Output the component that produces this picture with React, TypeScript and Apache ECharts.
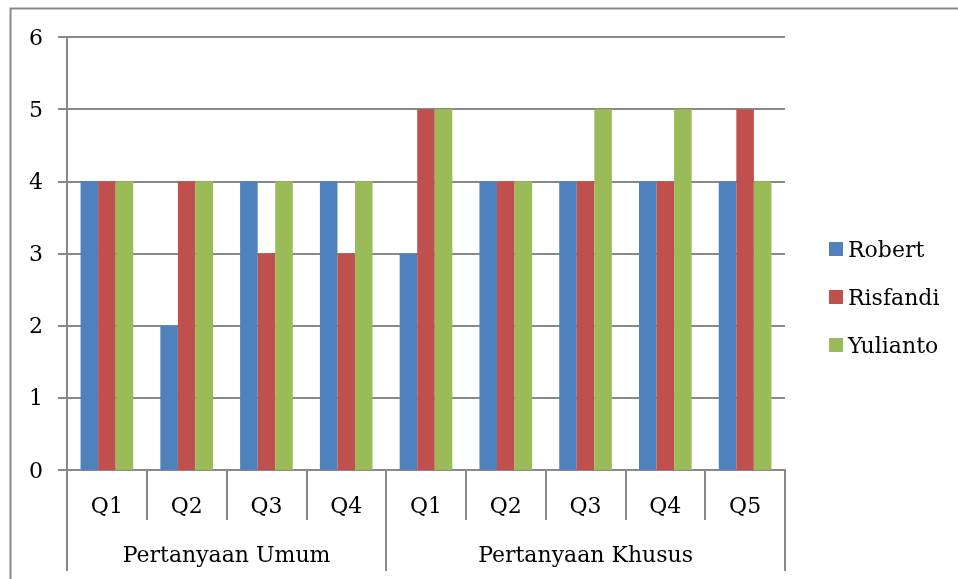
import React, { useEffect, useRef } from "react";
import * as echarts from "echarts";

const questions = ["Q1", "Q2", "Q3", "Q4", "Q1", "Q2", "Q3", "Q4", "Q5"];
const groupSlots = ["", "", "", "", "Pertanyaan Umum", "", "", "", "", "", "", "", "", "Pertanyaan Khusus", "", "", "", "", ""];
const groupBoundaryIdx = [0, 8, 18];
const seriesNames = ["Robert", "Risfandi", "Yulianto"];
const robert = [4, 2, 4, 4, 3, 4, 4, 4, 4];
const risfandi = [4, 4, 3, 3, 5, 4, 4, 4, 5];
const yulianto = [4, 4, 4, 4, 5, 4, 5, 5, 4];
const colors = ["#4F81BD", "#C0504D", "#9BBB59"];

const FONT = "DejaVu Serif";
const GRAY = "#898989";

export default function App() {
  const ref = useRef<HTMLDivElement>(null);
  useEffect(() => {
    const chart = echarts.init(ref.current!, null, { renderer: "svg" });
    const values = [robert, risfandi, yulianto];
    chart.setOption({
      animation: false,
      color: colors,
      textStyle: { fontFamily: FONT, color: "#000" },
      graphic: [
        {
          type: "polyline",
          shape: { points: [[10.5, 600], [10.5, 8.5], [970, 8.5]] },
          style: { fill: "none", stroke: GRAY, lineWidth: 2 },
          silent: true,
        },
      ],
      grid: { left: 67, top: 37, right: 173, bottom: 109 },
      legend: {
        orient: "vertical",
        left: 829,
        top: 238,
        padding: 0,
        itemWidth: 14,
        itemHeight: 14,
        itemGap: 26,
        icon: "rect",
        textStyle: { fontFamily: FONT, fontSize: 22, color: "#000", padding: [0, 0, 0, 0] },
        data: seriesNames,
      },
      xAxis: [
        {
          type: "category",
          data: questions,
          position: "bottom",
          axisLine: { lineStyle: { color: GRAY, width: 2 } },
          axisTick: { show: true, length: 50, lineStyle: { color: GRAY, width: 2 } },
          axisLabel: { fontFamily: FONT, fontSize: 22, color: "#000", margin: 24, interval: 0 },
        },
        {
          type: "category",
          data: groupSlots,
          position: "bottom",
          boundaryGap: false,
          axisLine: { show: false },
          axisTick: {
            show: true,
            length: 101,
            interval: (i: number) => groupBoundaryIdx.includes(i),
            lineStyle: { color: GRAY, width: 2 },
          },
          axisLabel: { fontFamily: FONT, fontSize: 22, color: "#000", margin: 73, interval: 0 },
        },
      ],
      yAxis: {
        type: "value",
        min: 0,
        max: 6,
        interval: 1,
        axisLine: { show: true, lineStyle: { color: GRAY, width: 2 } },
        axisTick: { show: true, length: 9, lineStyle: { color: GRAY, width: 2 } },
        axisLabel: { fontFamily: FONT, fontSize: 22, color: "#000", margin: 24 },
        splitLine: { lineStyle: { color: GRAY, width: 2 } },
      },
      series: seriesNames.map((name, i) => ({
        name,
        type: "bar",
        xAxisIndex: 0,
        data: values[i],
        barGap: "0%",
        barCategoryGap: "34%",
        itemStyle: { color: colors[i] },
      })),
    });
    return () => chart.dispose();
  }, []);
  return <div ref={ref} style={{ position: "fixed", left: 0, top: 0, width: 958, height: 579 }} />;
}
